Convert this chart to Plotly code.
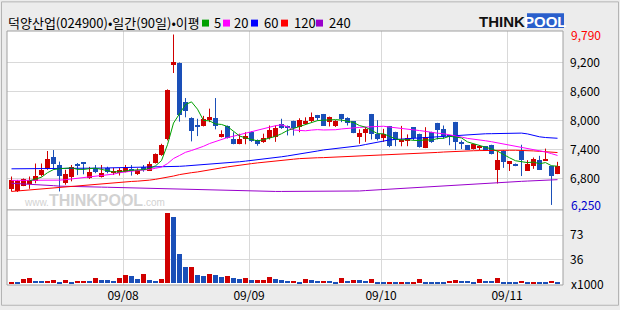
import plotly.graph_objects as go

# ---------------- data ----------------
stock_title = "덕양산업(024900)•일간(90일)•이평"
ma_names = ["5", "20", "60", "120", "240"]
month_labels = ["09/08", "09/09", "09/10", "09/11"]
month_pos = [18.6, 39.6, 61.6, 82.6]
price_ticks = [9200, 8600, 8000, 7400, 6800]
vol_ticks = [36, 73]
max_price = 9790
min_price = 6250

opens = [6590, 6530, 6650, 6690, 6740, 6870, 7000, 7250, 7080, 6700,
         6840, 7110, 7126, 6800, 7020, 6840, 7020, 6920, 6910, 6940,
         6976, 6890, 7044, 6960, 7130, 7280, 7610, 9160, 9200, 8380,
         8050, 7890, 7890, 8020, 8060, 7670, 7890, 7610, 7520, 7640,
         7760, 7590, 7560, 7640, 7670, 7930, 7879, 7990, 7865, 7930,
         7990, 8118, 8140, 7980, 7880, 8140, 8056, 7990, 7670, 7740,
         8140, 7730, 7650, 7890, 7770, 7577, 7570, 7865, 7730, 7440,
         7770, 7955, 7830, 7695, 7975, 7565, 7490, 7405, 7425, 7470,
         7500, 6975, 7360, 7100, 7110, 7365, 6955, 7065, 7175, 7174,
         7065, 6895]
highs = [6840, 6770, 6800, 6840, 7110, 7110, 7370, 7390, 7150, 6980,
         7080, 7120, 7130, 7040, 7080, 7080, 7044, 7020, 7020, 7080,
         7078, 7010, 7078, 7150, 7320, 7520, 8650, 9790, 9210, 8470,
         8070, 8040, 8100, 8250, 8470, 7800, 7900, 7760, 7728, 7760,
         7780, 7610, 7730, 7900, 7900, 8040, 7900, 8000, 8050, 8070,
         8170, 8120, 8140, 8085, 8010, 8140, 8070, 7990, 7820, 7870,
         8140, 8010, 7830, 7890, 7770, 7892, 7715, 7865, 7730, 7865,
         7770, 7955, 7900, 7695, 7975, 7590, 7490, 7510, 7495, 7470,
         7500, 7365, 7385, 7155, 7110, 7500, 7180, 7235, 7270, 7420,
         7065, 7145]
lows = [6530, 6520, 6640, 6585, 6700, 6840, 6980, 6980, 6530, 6670,
        6740, 6870, 6886, 6790, 6910, 6820, 6907, 6873, 6860, 6928,
        6859, 6873, 6941, 6955, 7110, 7270, 7590, 8990, 7980, 8070,
        7570, 7680, 7880, 7970, 7820, 7650, 7630, 7510, 7510, 7510,
        7560, 7480, 7540, 7610, 7560, 7830, 7694, 7690, 7760, 7920,
        7970, 8002, 7890, 7880, 7870, 7970, 7900, 7740, 7520, 7560,
        7610, 7590, 7560, 7450, 7470, 7468, 7470, 7590, 7440, 7430,
        7540, 7610, 7625, 7490, 7390, 7410, 7400, 7400, 7385, 7370,
        7300, 6695, 7020, 6955, 7055, 6850, 6955, 7000, 6975, 7167,
        6250, 6890]
closes = [6760, 6740, 6780, 6770, 6860, 6980, 7210, 7100, 6860, 6890,
          7040, 7060, 7092, 6940, 6940, 6910, 6928, 6955, 6970, 7040,
          6955, 6970, 6976, 7110, 7300, 7500, 8630, 9210, 8125, 8210,
          7780, 7870, 8040, 8080, 7890, 7730, 7650, 7520, 7625, 7680,
          7570, 7510, 7640, 7800, 7850, 7845, 7845, 7850, 8015, 8000,
          8085, 8057, 7900, 8070, 8000, 8040, 7955, 7750, 7750, 7830,
          7715, 7610, 7730, 7470, 7590, 7605, 7645, 7650, 7450, 7665,
          7565, 7815, 7680, 7655, 7550, 7510, 7400, 7510, 7470, 7370,
          7310, 7175, 7140, 7155, 7060, 7180, 7110, 7200, 6975, 7187,
          6850, 7065]
volumes = [2.5, 2.0, 6.4, 8.3, 3.4, 3.3, 3.6, 4.9, 2.0, 4.9,
           2.0, 3.4, 3.5, 3.3, 7.8, 4.9, 4.8, 3.4, 7.8, 12.3,
           10.8, 6.4, 13.7, 4.9, 3.4, 6.4, 107.8, 100.5, 45.0, 24.5,
           25.5, 12.3, 10.8, 13.7, 12.3, 9.8, 10.8, 7.8, 6.9, 7.8,
           4.9, 5.0, 5.1, 10.3, 6.4, 4.9, 3.4, 3.5, 2.0, 6.4,
           4.9, 3.4, 3.5, 3.4, 2.0, 7.8, 3.4, 4.9, 4.8, 3.4,
           6.4, 2.0, 1.9, 2.0, 1.9, 2.0, 1.9, 2.0, 6.4, 2.0,
           1.9, 1.8, 1.7, 3.4, 4.9, 3.4, 3.3, 2.0, 6.4, 3.4,
           3.3, 7.8, 2.0, 1.9, 1.8, 3.4, 2.0, 2.1, 2.0, 1.9,
           3.4, 2.0]
ma5 = [None, None, None, 6750, 6782, 6826, 6920, 6984, 7002, 7008,
       7020, 6990, 6988, 7004, 7014, 6988, 6962, 6935, 6941, 6961,
       6970, 6978, 6982, 7010, 7062, 7171, 7503, 7950, 8153, 8335,
       8391, 8239, 8005, 7996, 7932, 7922, 7878, 7774, 7683, 7641,
       7609, 7581, 7605, 7640, 7674, 7729, 7796, 7838, 7881, 7911,
       7959, 8001, 8011, 8022, 8022, 8013, 7993, 7963, 7899, 7865,
       7800, 7731, 7727, 7671, 7623, 7601, 7608, 7592, 7588, 7603,
       7595, 7629, 7635, 7676, 7653, 7642, 7559, 7525, 7488, 7452,
       7412, 7367, 7293, 7230, 7168, 7142, 7129, 7141, 7105, 7130,
       7064, 7055]
ma20 = [6760, 6760, 6758, 6757, 6757, 6758, 6760, 6762, 6765, 6775,
        6790, 6800, 6815, 6830, 6845, 6858, 6870, 6890, 6918, 6941,
        6951, 6963, 6972, 6989, 7011, 7037, 7108, 7214, 7277, 7343,
        7380, 7421, 7468, 7525, 7572, 7613, 7650, 7678, 7711, 7743,
        7773, 7800, 7834, 7868, 7896, 7913, 7874, 7806, 7800, 7790,
        7805, 7814, 7807, 7807, 7812, 7828, 7843, 7854, 7861, 7868,
        7875, 7880, 7885, 7868, 7855, 7843, 7833, 7823, 7795, 7778,
        7752, 7740, 7729, 7709, 7686, 7660, 7632, 7620, 7606, 7583,
        7563, 7541, 7511, 7496, 7469, 7448, 7421, 7399, 7375, 7351,
        7315, 7278]
ma60 = [7000, 7000, 7000, 7000, 7000, 7000, 7000, 7000, 7000, 7003,
        7005, 7008, 7010, 7012, 7014, 7016, 7018, 7020, 7022, 7024,
        7026, 7028, 7030, 7033, 7036, 7038, 7041, 7044, 7052, 7060,
        7068, 7076, 7085, 7095, 7105, 7115, 7125, 7136, 7147, 7160,
        7173, 7187, 7201, 7215, 7235, 7250, 7268, 7286, 7305, 7325,
        7345, 7370, 7392, 7405, 7418, 7430, 7442, 7454, 7480, 7505,
        7530, 7555, 7580, 7600, 7610, 7618, 7625, 7635, 7645, 7655,
        7665, 7675, 7685, 7694, 7700, 7706, 7712, 7718, 7723, 7728,
        7730, 7733, 7735, 7738, 7740, 7742, 7725, 7690, 7665, 7650,
        7640, 7635]
ma120 = [6530, 6541, 6552, 6563, 6574, 6586, 6597, 6608, 6620, 6631,
         6642, 6653, 6663, 6673, 6684, 6695, 6706, 6716, 6726, 6732,
         6738, 6744, 6750, 6765, 6782, 6800, 6818, 6850, 6880, 6905,
         6920, 6935, 6960, 6980, 7000, 7020, 7040, 7060, 7078, 7093,
         7108, 7123, 7138, 7150, 7163, 7175, 7188, 7200, 7212, 7222,
         7228, 7230, 7233, 7238, 7243, 7248, 7253, 7258, 7263, 7268,
         7273, 7278, 7283, 7289, 7295, 7300, 7306, 7311, 7317, 7325,
         7333, 7341, 7349, 7357, 7365, 7369, 7372, 7376, 7379, 7383,
         7386, 7386, 7386, 7386, 7386, 7386, 7380, 7372, 7364, 7355,
         7346, 7338]
ma240 = [6700, 6695, 6690, 6685, 6680, 6670, 6660, 6650, 6640, 6635,
         6633, 6630, 6628, 6625, 6622, 6620, 6617, 6614, 6611, 6608,
         6600, 6595, 6590, 6587, 6585, 6583, 6580, 6578, 6575, 6572,
         6568, 6564, 6560, 6556, 6551, 6546, 6542, 6538, 6534, 6531,
         6530, 6530, 6530, 6530, 6530, 6530, 6530, 6530, 6530, 6530,
         6528, 6527, 6527, 6527, 6528, 6529, 6530, 6532, 6540, 6548,
         6556, 6564, 6572, 6580, 6588, 6596, 6604, 6612, 6619, 6626,
         6632, 6638, 6644, 6650, 6656, 6664, 6672, 6680, 6690, 6700,
         6708, 6715, 6722, 6729, 6735, 6740, 6746, 6752, 6758, 6764,
         6770, 6775]

# ---------------- layout geometry (pixels) ----------------
W, H = 620, 310
L, R, T, B = 7, 563, 31, 288
SPLIT = 212
BG = "#ececec"
RED = "#d00000"
BLUE = "#1a4fb8"
GRID = "#d9d9d9"
FRAME = "#a0a0a0"
FONT = "Noto Sans CJK KR"
ma_colors = ["#00a000", "#ff00ff", "#0000ff", "#ff0000", "#9900cc"]


def px(x):
    return (x - L) / (R - L)


def py(y):
    return (B - y) / (B - T)


n = len(closes)
xs = list(range(n))
split_frac = py(SPLIT)

fig = go.Figure()

# candle wicks
for col, up in ((RED, True), (BLUE, False)):
    wx, wy = [], []
    for i in xs:
        if (closes[i] > opens[i]) == up:
            wx += [i, i, None]
            wy += [lows[i], highs[i], None]
    fig.add_trace(go.Scatter(x=wx, y=wy, mode="lines", line=dict(color=col, width=1),
                             hoverinfo="skip", showlegend=False, xaxis="x", yaxis="y"))

# candle bodies
body = []
cols = []
for i in xs:
    d = closes[i] - opens[i]
    if abs(d) < 25:
        d = 25 if d >= 0 else -25
    body.append(d)
    cols.append(RED if closes[i] > opens[i] else BLUE)
fig.add_trace(go.Bar(x=xs, y=body, base=opens, width=5 / 6, marker=dict(color=cols, line=dict(width=0)),
                     showlegend=False, xaxis="x", yaxis="y"))

# moving averages
for series, col in zip([ma240, ma120, ma60, ma20, ma5], ma_colors[::-1]):
    fig.add_trace(go.Scatter(x=xs, y=series, mode="lines", line=dict(color=col, width=1),
                             connectgaps=False, showlegend=False, hoverinfo="skip",
                             xaxis="x", yaxis="y"))

# volume
vcols = [RED if i == 0 or volumes[i] > volumes[i - 1] else BLUE for i in xs]
fig.add_trace(go.Bar(x=xs, y=volumes, width=5 / 6, marker=dict(color=vcols, line=dict(width=0)),
                     showlegend=False, xaxis="x2", yaxis="y2"))

xr = [-0.75, -0.75 + (R - L) / 6]
axis_font = dict(family=FONT, size=12, color="#000000")

fig.update_layout(
    width=W, height=H,
    margin=dict(l=L, r=W - R, t=T, b=H - B),
    paper_bgcolor=BG, plot_bgcolor="#ffffff",
    bargap=0,
    xaxis=dict(domain=[0, 1], range=xr, anchor="y", tickvals=month_pos, showticklabels=False,
               showgrid=True, gridcolor=GRID, gridwidth=1, zeroline=False, showline=False, ticks=""),
    yaxis=dict(domain=[split_frac, 1], range=[6147, 9863], side="right", tickvals=price_ticks,
               ticktext=[f"{v:,}" for v in price_ticks], tickfont=axis_font, ticks="",
               ticklabelstandoff=6, showgrid=True, gridcolor=GRID, zeroline=False, showline=False),
    xaxis2=dict(domain=[0, 1], range=xr, anchor="y2", tickvals=month_pos, ticktext=month_labels,
                tickfont=axis_font, showgrid=True, gridcolor=GRID, zeroline=False, showline=False,
                ticks="", ticklabelstandoff=2),
    yaxis2=dict(domain=[0, split_frac], range=[-2.7, 111.6], side="right", tickvals=vol_ticks,
                ticktext=[str(v) for v in vol_ticks], tickfont=axis_font, ticks="",
                ticklabelstandoff=6, showgrid=True, gridcolor=GRID, zeroline=False, showline=False),
)

shapes = []
# plot frame and divider
shapes.append(dict(type="rect", xref="paper", yref="paper", x0=0, x1=1, y0=0, y1=1,
                   line=dict(color=FRAME, width=1), layer="above"))
shapes.append(dict(type="line", xref="paper", yref="paper", x0=0, x1=1, y0=split_frac, y1=split_frac,
                   line=dict(color=FRAME, width=1), layer="above"))
# outer frame
shapes.append(dict(type="rect", xref="paper", yref="paper", x0=px(1.5), x1=px(618.5), y0=py(308.5), y1=py(1.5),
                   line=dict(color="#b4b4b4", width=1), layer="above"))

annotations = []
# title
annotations.append(dict(xref="paper", yref="paper", x=px(6), y=py(22), xanchor="left", yanchor="middle",
                        text=stock_title, showarrow=False, font=dict(family=FONT, size=13, color="#000")))
# legend squares + labels
sq_x = [202, 223, 251, 281, 316]
lab_x = [212, 232, 262, 292, 327]
for name, col, sx, lx in zip(ma_names, ma_colors, sq_x, lab_x):
    shapes.append(dict(type="rect", xref="paper", yref="paper", x0=px(sx), x1=px(sx + 7),
                       y0=py(26.5), y1=py(19.5), fillcolor=col, line=dict(width=0), layer="above"))
    annotations.append(dict(xref="paper", yref="paper", x=px(lx), y=py(22), xanchor="left", yanchor="middle",
                            text=name, showarrow=False, font=dict(family=FONT, size=13, color="#000")))

# ThinkPool logo
shapes.append(dict(type="rect", xref="paper", yref="paper", x0=px(527), x1=px(564), y0=py(28), y1=py(13),
                   fillcolor="#2a5fcc", line=dict(width=0), layer="above"))
annotations.append(dict(xref="paper", yref="paper", x=px(527), y=py(21), xanchor="right", yanchor="middle",
                        text="<b>THINK</b>", showarrow=False,
                        font=dict(family="Liberation Sans", size=15, color="#111")))
annotations.append(dict(xref="paper", yref="paper", x=px(545.5), y=py(21), xanchor="center", yanchor="middle",
                        text="<b>POOL</b>", showarrow=False,
                        font=dict(family="Liberation Sans", size=15, color="#ffffff")))

# watermark
annotations.append(dict(xref="paper", yref="paper", x=px(22), y=py(202), xanchor="left", yanchor="middle",
                        text='<span style="font-size:10px">www.</span><b>THINKPOOL</b><span style="font-size:10px">.com</span>',
                        showarrow=False, font=dict(family="Liberation Sans", size=16, color="#d2d2d2")))

# max / min labels
annotations.append(dict(xref="paper", yref="y", x=px(569), y=max_price, xanchor="left", yanchor="middle",
                        text=f"{max_price:,}", showarrow=False, font=dict(family=FONT, size=12, color="#ff0000")))
annotations.append(dict(xref="paper", yref="y", x=px(569), y=min_price, xanchor="left", yanchor="middle",
                        text=f"{min_price:,}", showarrow=False, font=dict(family=FONT, size=12, color="#0000cc")))
# volume unit
annotations.append(dict(xref="paper", yref="paper", x=px(569), y=py(286), xanchor="left", yanchor="middle",
                        text="x1000", showarrow=False, font=dict(family=FONT, size=12, color="#000")))

fig.update_layout(shapes=shapes, annotations=annotations)
fig.write_html("out.html")
